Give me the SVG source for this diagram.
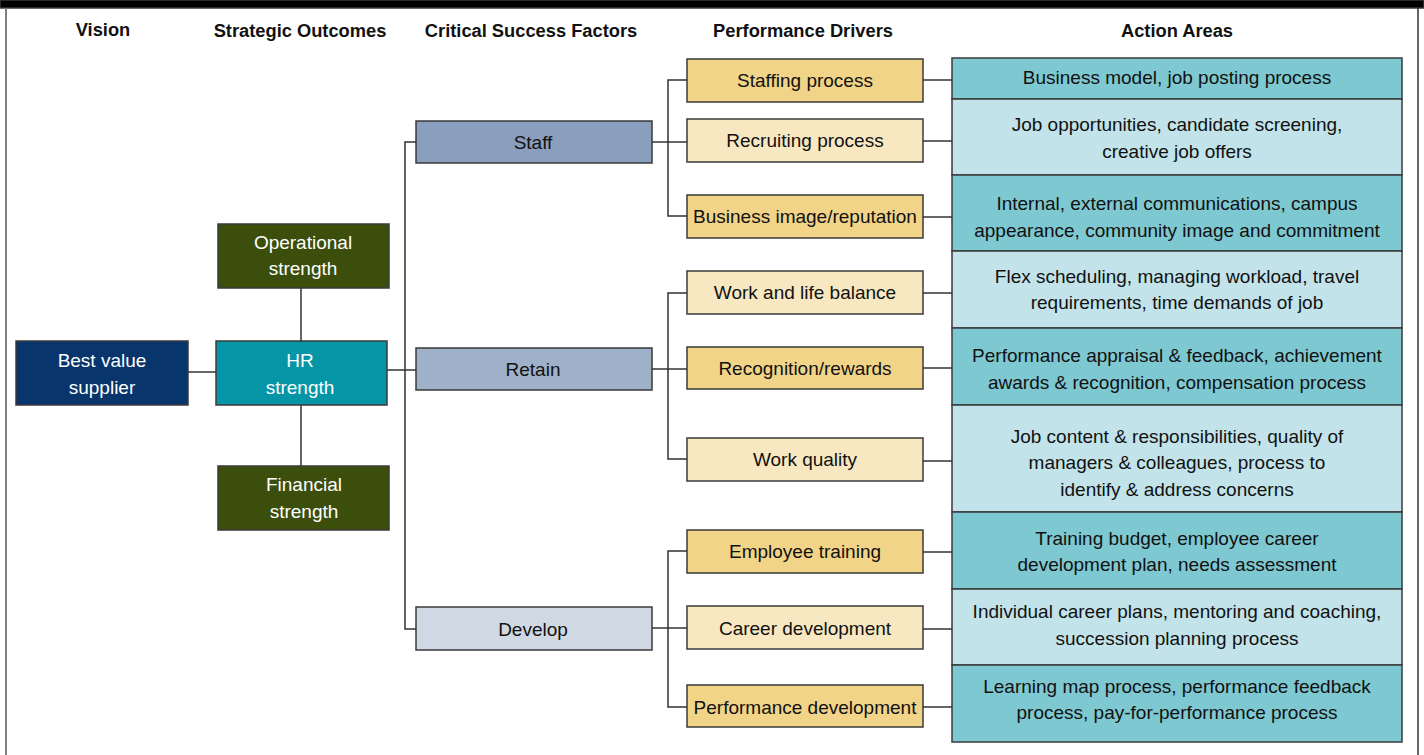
<svg xmlns="http://www.w3.org/2000/svg" width="1424" height="755" viewBox="0 0 1424 755">
<style>
text{font-family:"Liberation Sans",Arial,sans-serif;font-size:19px;text-anchor:middle;dominant-baseline:central;fill:#111}
.h{font-weight:bold;font-size:18.3px}
.w{fill:#fff}
rect{stroke:#3a3a3a;stroke-width:1.5}
.bv{fill:#07356c}.hr{fill:#0495a7}.gr{fill:#3b4e0c}
.s1{fill:#8a9fbd}.s2{fill:#9fb1c8}.s3{fill:#d0d8e3}
.pd{fill:#f1d488}.pl{fill:#f8e8c1}
.ad{fill:#7ec8d1}.al{fill:#c1e3e9}
.c line,.c path{stroke:#333;stroke-width:1.5;fill:none}
</style>
<rect x="0" y="0" width="1424" height="8" fill="#000" stroke="none"/>
<line x1="6" y1="8" x2="6" y2="755" stroke="#808080" stroke-width="2"/>
<line x1="1418" y1="8" x2="1418" y2="755" stroke="#333" stroke-width="1.5"/>
<g id="headers">
<text class="h" x="103" y="29">Vision</text>
<text class="h" x="300" y="30">Strategic Outcomes</text>
<text class="h" x="531" y="30">Critical Success Factors</text>
<text class="h" x="803" y="30">Performance Drivers</text>
<text class="h" x="1177" y="30">Action Areas</text>
</g>
<g class="c" id="connectors">
<line x1="188" y1="372" x2="216" y2="372"/>
<line x1="301" y1="288" x2="301" y2="341"/>
<line x1="301" y1="405" x2="301" y2="466"/>
<line x1="387" y1="370" x2="416" y2="370"/>
<path d="M416 142H405V629H416"/>
<line x1="652" y1="142" x2="687" y2="142"/>
<path d="M687 80H668V216H687"/>
<line x1="652" y1="369" x2="687" y2="369"/>
<path d="M687 293H668V459H687"/>
<line x1="652" y1="628" x2="687" y2="628"/>
<path d="M687 551H668V707H687"/>
<line x1="923" y1="80" x2="952" y2="80"/>
<line x1="923" y1="141" x2="952" y2="141"/>
<line x1="923" y1="217" x2="952" y2="217"/>
<line x1="923" y1="293" x2="952" y2="293"/>
<line x1="923" y1="368" x2="952" y2="368"/>
<line x1="923" y1="461" x2="952" y2="461"/>
<line x1="923" y1="552" x2="952" y2="552"/>
<line x1="923" y1="629" x2="952" y2="629"/>
<line x1="923" y1="707" x2="952" y2="707"/>
</g>
<g id="best-value"><rect class="bv" x="16" y="341" width="172" height="64"/><text class="w" x="102" y="360">Best value</text><text class="w" x="102" y="387">supplier</text></g>
<g id="hr-strength"><rect class="hr" x="216" y="341" width="171" height="64"/><text class="w" x="300" y="360">HR</text><text class="w" x="300" y="387">strength</text></g>
<g id="operational"><rect class="gr" x="218" y="224" width="171" height="64"/><text class="w" x="303" y="242">Operational</text><text class="w" x="303" y="268">strength</text></g>
<g id="financial"><rect class="gr" x="218" y="466" width="171" height="64"/><text class="w" x="304" y="484">Financial</text><text class="w" x="304" y="511">strength</text></g>
<g id="staff"><rect class="s1" x="416" y="121" width="236" height="42"/><text x="533" y="142">Staff</text></g>
<g id="retain"><rect class="s2" x="416" y="348" width="236" height="42"/><text x="533" y="369">Retain</text></g>
<g id="develop"><rect class="s3" x="416" y="607" width="236" height="43"/><text x="533" y="629">Develop</text></g>
<g id="pd1"><rect class="pd" x="687" y="59" width="236" height="43"/><text x="805" y="80">Staffing process</text></g>
<g id="pd2"><rect class="pl" x="687" y="119" width="236" height="43"/><text x="805" y="140">Recruiting process</text></g>
<g id="pd3"><rect class="pd" x="687" y="195" width="236" height="43"/><text x="805" y="216">Business image/reputation</text></g>
<g id="pd4"><rect class="pl" x="687" y="271" width="236" height="43"/><text x="805" y="292">Work and life balance</text></g>
<g id="pd5"><rect class="pd" x="687" y="347" width="236" height="42"/><text x="805" y="368">Recognition/rewards</text></g>
<g id="pd6"><rect class="pl" x="687" y="438" width="236" height="43"/><text x="805" y="459">Work quality</text></g>
<g id="pd7"><rect class="pd" x="687" y="530" width="236" height="43"/><text x="805" y="551">Employee training</text></g>
<g id="pd8"><rect class="pl" x="687" y="606" width="236" height="43"/><text x="805" y="628">Career development</text></g>
<g id="pd9"><rect class="pd" x="687" y="685" width="236" height="42"/><text x="805" y="707">Performance development</text></g>
<g id="aa1"><rect class="ad" x="952" y="58" width="450" height="41"/><text x="1177" y="77">Business model, job posting process</text></g>
<g id="aa2"><rect class="al" x="952" y="99" width="450" height="76"/><text x="1177" y="124">Job opportunities, candidate screening,</text><text x="1177" y="151">creative job offers</text></g>
<g id="aa3"><rect class="ad" x="952" y="175" width="450" height="76"/><text x="1177" y="203">Internal, external communications, campus</text><text x="1177" y="230">appearance, community image and commitment</text></g>
<g id="aa4"><rect class="al" x="952" y="251" width="450" height="77"/><text x="1177" y="276">Flex scheduling, managing workload, travel</text><text x="1177" y="302">requirements, time demands of job</text></g>
<g id="aa5"><rect class="ad" x="952" y="328" width="450" height="77"/><text x="1177" y="355">Performance appraisal &amp; feedback, achievement</text><text x="1177" y="382">awards &amp; recognition, compensation process</text></g>
<g id="aa6"><rect class="al" x="952" y="405" width="450" height="107"/><text x="1177" y="436">Job content &amp; responsibilities, quality of</text><text x="1177" y="462">managers &amp; colleagues, process to</text><text x="1177" y="489">identify &amp; address concerns</text></g>
<g id="aa7"><rect class="ad" x="952" y="512" width="450" height="77"/><text x="1177" y="538">Training budget, employee career</text><text x="1177" y="564">development plan, needs assessment</text></g>
<g id="aa8"><rect class="al" x="952" y="589" width="450" height="76"/><text x="1177" y="611">Individual career plans, mentoring and coaching,</text><text x="1177" y="638">succession planning process</text></g>
<g id="aa9"><rect class="ad" x="952" y="665" width="450" height="77"/><text x="1177" y="686">Learning map process, performance feedback</text><text x="1177" y="712">process, pay-for-performance process</text></g>
</svg>
